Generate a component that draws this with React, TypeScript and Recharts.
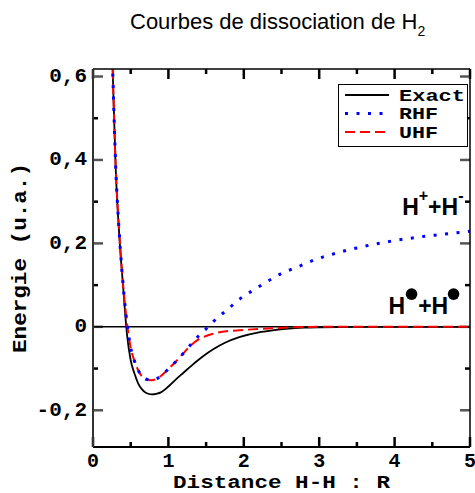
import React from 'react';
import {
  LineChart,
  Line,
  XAxis,
  YAxis,
  ReferenceLine,
  ReferenceDot,
  Legend
} from 'recharts';

// series names, in legend order
const seriesNames = ['Exact', 'RHF', 'UHF'];

// Exact (full CI) curve, energies in u.a. relative to 2 H
const exactR = [0.25, 0.27, 0.3, 0.35, 0.4, 0.45, 0.5, 0.55, 0.6, 0.65, 0.7, 0.78, 0.85, 0.9, 1.0, 1.1, 1.2, 1.3, 1.4, 1.5, 1.6, 1.75, 1.95, 2.2, 2.4, 2.6, 2.8, 3.0, 3.5, 4.0, 5.0];
const exactE = [0.69, 0.56, 0.385, 0.215, 0.095, -0.017, -0.08, -0.112, -0.136, -0.15, -0.158, -0.162, -0.16, -0.157, -0.143, -0.126, -0.11, -0.094, -0.079, -0.065, -0.053, -0.038, -0.024, -0.013, -0.008, -0.004, -0.002, -0.001, 0, 0, 0];

// RHF curve
const rhfR = [0.25, 0.27, 0.3, 0.35, 0.4, 0.45, 0.5, 0.55, 0.6, 0.65, 0.7, 0.78, 0.85, 0.9, 1.0, 1.1, 1.2, 1.3, 1.4, 1.5, 1.6, 1.7, 1.8, 1.9, 2.0, 2.13, 2.25, 2.4, 2.5, 2.66, 2.8, 2.94, 3.1, 3.25, 3.4, 3.55, 3.7, 3.85, 4.0, 4.2, 4.4, 4.6, 4.8, 5.0];
const rhfE = [0.69, 0.56, 0.39, 0.22, 0.1, 0.01, -0.05, -0.082, -0.104, -0.119, -0.125, -0.128, -0.124, -0.118, -0.101, -0.083, -0.063, -0.042, -0.022, -0.005, 0.013, 0.029, 0.044, 0.06, 0.074, 0.088, 0.102, 0.118, 0.128, 0.14, 0.15, 0.161, 0.17, 0.178, 0.185, 0.191, 0.197, 0.202, 0.207, 0.212, 0.217, 0.221, 0.225, 0.229];

// UHF curve
const uhfR = [0.25, 0.27, 0.3, 0.35, 0.4, 0.45, 0.5, 0.55, 0.6, 0.65, 0.7, 0.78, 0.85, 0.9, 1.0, 1.1, 1.2, 1.3, 1.4, 1.5, 1.65, 1.8, 1.95, 2.2, 2.4, 2.7, 3.0, 4.0, 5.0];
const uhfE = [0.69, 0.56, 0.39, 0.22, 0.1, 0.01, -0.05, -0.082, -0.104, -0.119, -0.125, -0.128, -0.124, -0.118, -0.101, -0.083, -0.063, -0.044, -0.03, -0.022, -0.014, -0.01, -0.008, -0.005, -0.003, -0.001, 0, 0, 0];

const xTicks = [0, 0.5, 1, 1.5, 2, 2.5, 3, 3.5, 4, 4.5, 5];
const yTicks = [-0.2, -0.1, 0, 0.1, 0.2, 0.3, 0.4, 0.5, 0.6];

const X_DOMAIN = [0, 5];
const Y_DOMAIN = [-0.288, 0.618];

const toRows = (r: number[], e: number[]) => r.map((v, i) => ({ r: v, e: e[i] }));

const exactData = toRows(exactR, exactE);
const rhfData = toRows(rhfR, rhfE);
const uhfData = toRows(uhfR, uhfE);

const mono = "'Liberation Mono', 'Courier New', monospace";
const sans = "'Liberation Sans', Arial, sans-serif";

// plot box in pixels, used to turn tick mark lengths into data units
const PLOT_W = 377;
const PLOT_H = 378;
const pxX = (px: number) => (px * (X_DOMAIN[1] - X_DOMAIN[0])) / PLOT_W;
const pxY = (px: number) => (px * (Y_DOMAIN[1] - Y_DOMAIN[0])) / PLOT_H;

const fmtY = (v: number) => (Math.abs(v) < 1e-9 ? '0' : v.toFixed(1).replace('.', ','));
const isMajorX = (v: number) => Math.abs(v - Math.round(v)) < 1e-6;
const isMajorY = (v: number) => Math.round(Math.abs(v) * 10) % 2 === 0;

const BottomLabel = (props: any) => {
  const { x, y, payload } = props;
  if (!isMajorX(payload.value)) return <g />;
  return (
    <text x={x} y={y + 20} textAnchor="middle" fontFamily={mono} fontWeight="bold" fontSize={20} fill="#000">
      {payload.value}
    </text>
  );
};

const LeftLabel = (props: any) => {
  const { x, y, payload } = props;
  if (!isMajorY(payload.value)) return <g />;
  return (
    <text x={x - 6} y={y} textAnchor="end" dominantBaseline="central" fontFamily={mono} fontWeight="bold" fontSize={21} fill="#000">
      {fmtY(payload.value)}
    </text>
  );
};

const IonLabel = (props: any) => {
  const { cx, cy } = props;
  return (
    <text x={cx} y={cy} fontFamily={sans} fontWeight="bold" fontSize={23} fill="#000">
      H<tspan fontSize={16} dy={-14}>+</tspan>
      <tspan dy={14}>+H</tspan>
      <tspan fontSize={16} dy={-14}>-</tspan>
    </text>
  );
};

const RadicalLabel = (props: any) => {
  const { cx, cy } = props;
  return (
    <g>
      <text x={cx} y={cy} fontFamily={sans} fontWeight="bold" fontSize={23} fill="#000">
        H<tspan dx={13}>+H</tspan>
      </text>
      <circle cx={cx + 23} cy={cy - 20} r={5.8} fill="#000" />
      <circle cx={cx + 65} cy={cy - 20} r={5.8} fill="#000" />
    </g>
  );
};

const LegendBox = (props: any) => {
  const items = [...(props.payload || [])].sort(
    (a: any, b: any) => seriesNames.indexOf(a.value) - seriesNames.indexOf(b.value)
  );
  const widths: Record<string, number> = { Exact: 66, RHF: 39, UHF: 39 };
  return (
    <svg width={130} height={63} style={{ display: 'block' }}>
      <rect x={0.5} y={0.5} width={129} height={62} fill="#fff" stroke="#000" strokeWidth={1} />
      {items.map((entry: any, i: number) => {
        const cy = 11 + i * 18.5;
        return (
          <g key={entry.value}>
            <line
              x1={7}
              x2={51}
              y1={cy}
              y2={cy}
              stroke={entry.color}
              strokeWidth={entry.value === 'RHF' ? 3 : 2}
              strokeDasharray={entry.payload?.strokeDasharray}
            />
            <text
              x={61}
              y={cy + 5.5}
              fontFamily={mono}
              fontWeight="bold"
              fontSize={17}
              textLength={widths[entry.value]}
              lengthAdjust="spacingAndGlyphs"
              fill="#000"
            >
              {entry.value}
            </text>
          </g>
        );
      })}
    </svg>
  );
};

export default function App() {
  return (
    <div style={{ position: 'absolute', left: 0, top: 0, background: '#fff' }}>
      <LineChart width={475} height={493} margin={{ top: 59, right: 0, bottom: 16, left: 63 }}>
        <XAxis
          type="number"
          dataKey="r"
          domain={X_DOMAIN}
          ticks={xTicks}
          interval={0}
          height={30}
          tickSize={0}
          tickMargin={0}
          tickLine={false}
          tick={<BottomLabel />}
          axisLine={{ stroke: '#000', strokeWidth: 2 }}
          allowDataOverflow
        />
        <XAxis
          xAxisId="top"
          orientation="top"
          type="number"
          domain={X_DOMAIN}
          ticks={xTicks}
          height={10}
          tickLine={false}
          tick={false}
          axisLine={{ stroke: '#000', strokeWidth: 1.5 }}
          allowDataOverflow
        />
        <YAxis
          type="number"
          domain={Y_DOMAIN}
          ticks={yTicks}
          interval={0}
          width={30}
          tickSize={0}
          tickMargin={0}
          tickLine={false}
          tick={<LeftLabel />}
          axisLine={{ stroke: '#333', strokeWidth: 2 }}
          allowDataOverflow
        />
        <YAxis
          yAxisId="right"
          orientation="right"
          type="number"
          domain={Y_DOMAIN}
          ticks={yTicks}
          width={5}
          tickLine={false}
          tick={false}
          axisLine={{ stroke: '#000', strokeWidth: 1.5 }}
          allowDataOverflow
        />
        {xTicks.map((v) => (
          <ReferenceLine
            key={`b${v}`}
            ifOverflow="visible"
            segment={[{ x: v, y: Y_DOMAIN[0] }, { x: v, y: Y_DOMAIN[0] + pxY(isMajorX(v) ? 10 : 5) }]}
            stroke="#000"
            strokeWidth={2.5}
          />
        ))}
        {xTicks.map((v) => (
          <ReferenceLine
            key={`t${v}`}
            ifOverflow="visible"
            segment={[{ x: v, y: Y_DOMAIN[1] }, { x: v, y: Y_DOMAIN[1] - pxY(isMajorX(v) ? 10 : 5) }]}
            stroke="#000"
            strokeWidth={2.5}
          />
        ))}
        {yTicks.map((v) => (
          <ReferenceLine
            key={`l${v}`}
            ifOverflow="visible"
            segment={[{ x: X_DOMAIN[0], y: v }, { x: X_DOMAIN[0] + pxX(isMajorY(v) ? 10 : 5), y: v }]}
            stroke={isMajorY(v) ? '#555' : '#000'}
            strokeWidth={2.5}
          />
        ))}
        {yTicks.map((v) => (
          <ReferenceLine
            key={`r${v}`}
            ifOverflow="visible"
            segment={[{ x: X_DOMAIN[1], y: v }, { x: X_DOMAIN[1] - pxX(isMajorY(v) ? 10 : 5), y: v }]}
            stroke={isMajorY(v) ? '#555' : '#000'}
            strokeWidth={2.5}
          />
        ))}
        <ReferenceLine y={0} stroke="#000" strokeWidth={1.5} />
        <Line
          name="Exact"
          data={exactData}
          dataKey="e"
          type="monotone"
          stroke="#000000"
          strokeWidth={1.8}
          dot={false}
          activeDot={false}
          isAnimationActive={false}
        />
        <Line
          name="UHF"
          data={uhfData}
          dataKey="e"
          type="monotone"
          stroke="#ff0000"
          strokeWidth={2}
          strokeDasharray="10 5"
          dot={false}
          activeDot={false}
          isAnimationActive={false}
        />
        <Line
          name="RHF"
          data={rhfData}
          dataKey="e"
          type="monotone"
          stroke="#0000ff"
          strokeWidth={3}
          strokeDasharray="3 8.5"
          dot={false}
          activeDot={false}
          isAnimationActive={false}
        />
        <ReferenceDot x={4.1} y={0.268} r={0} ifOverflow="visible" shape={IonLabel} />
        <ReferenceDot x={3.92} y={0.0305} r={0} ifOverflow="visible" shape={RadicalLabel} />
        <Legend
          layout="vertical"
          align="center"
          verticalAlign="middle"
          content={<LegendBox />}
          wrapperStyle={{ left: 338, top: 84, width: 130, height: 63 }}
        />
        <text x={130} y={29} fontFamily={sans} fontSize={22} fill="#000">
          Courbes de dissociation de H<tspan fontSize={14} dy={7}>2</tspan>
        </text>
        <text
          x={281.5}
          y={488}
          textAnchor="middle"
          fontFamily={mono}
          fontWeight="bold"
          fontSize={18}
          textLength={217}
          lengthAdjust="spacingAndGlyphs"
          fill="#000"
        >
          Distance H-H : R
        </text>
        <text
          x={26}
          y={258}
          transform="rotate(-90 26 258)"
          textAnchor="middle"
          fontFamily={mono}
          fontWeight="bold"
          fontSize={20}
          textLength={190}
          lengthAdjust="spacingAndGlyphs"
          fill="#000"
        >
          Energie (u.a.)
        </text>
      </LineChart>
    </div>
  );
}
